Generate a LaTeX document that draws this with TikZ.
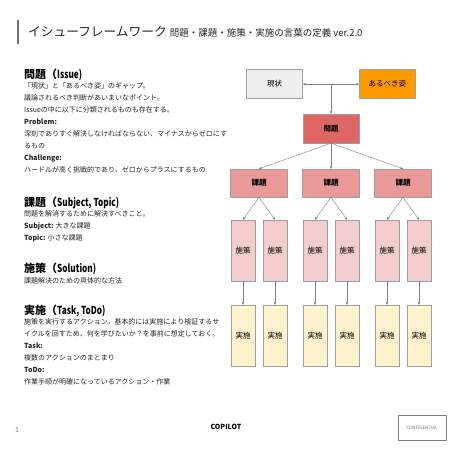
\documentclass[tikz,border=0pt]{standalone}
\usepackage{fontspec}
\setmainfont{Noto Sans CJK JP}
\newfontfamily\narrowlatin[FakeStretch=0.75]{Noto Sans CJK JP}
\usepackage{tikz}
\usetikzlibrary{arrows.meta,positioning,trees}
\definecolor{GenjoGray}{HTML}{EFEFEF}
\definecolor{ArubekiOrange}{HTML}{FF9900}
\definecolor{MondaiRed}{HTML}{E06666}
\definecolor{KadaiRed}{HTML}{EA9999}
\definecolor{ShisakuPink}{HTML}{F4CCCC}
\definecolor{JisshiYellow}{HTML}{FFF2CC}
\newcommand{\narrow}[1]{{\narrowlatin #1}}
\tikzset{
  basic/.style   = {draw=gray!75, thin, rectangle, align=center, inner sep=0pt,
                    font=\fontsize{7.5}{9}\selectfont},
  state/.style   = {basic, minimum width=56pt, minimum height=29pt},
  root/.style    = {state, fill=MondaiRed, font=\fontsize{7.5}{9}\selectfont\bfseries},
  kadai/.style   = {basic, fill=KadaiRed, minimum width=57pt, minimum height=28pt,
                    font=\fontsize{7.5}{9}\selectfont\bfseries},
  shisaku/.style = {basic, fill=ShisakuPink, minimum width=24pt, minimum height=61pt},
  jisshi/.style  = {basic, fill=JisshiYellow, minimum width=24pt, minimum height=61pt},
  heading/.style = {anchor=base west, inner sep=0pt, font=\fontsize{11}{12}\selectfont\bfseries},
  body/.style    = {anchor=north west, inner sep=0pt, align=left, text=black!85,
                    font=\fontsize{7}{12}\selectfont},
  link/.style    = {draw=gray, -{Stealth[length=3pt,width=2.5pt]}}
}
\begin{document}
\begin{tikzpicture}[
  x=1pt, y=1pt,
  level 1/.style={sibling distance=72pt, level distance=54.5pt},
  level 2/.style={sibling distance=32pt, level distance=67.5pt},
  level 3/.style={level distance=85pt},
  edge from parent/.style={link},
  edge from parent path={(\tikzparentnode.south) -- (\tikzchildnode.north)}]

\fill[white] (0,0) rectangle (453,453);
\useasboundingbox (0,0) rectangle (453,453);

% title
\draw[gray!90!black, line width=1.1pt] (18,433) -- (18,409);
\node[anchor=base west, inner sep=0pt, text=black!85, font=\fontsize{12.7}{14}\selectfont]
  (title) at (28,416.2) {イシューフレームワーク\hspace{3pt}{\fontsize{9.5}{11}\selectfont 問題・課題・施策・実施の言葉の定義 ver.2.0}};

% definitions on the left
\node[heading] (h1) at (24,374) {問題（\narrow{Issue)}};
\node[body] (b1) at (24,371) {「現状」と「あるべき姿」のギャップ。\\
  議論されるべき判断があいまいなポイント。\\
  Issueの中に以下に分類されるものも存在する。\\
  \textbf{Problem:}\\
  深刻でありすぐ解決しなければならない、マイナスからゼロにす\\
  るもの\\
  \textbf{Challenge:}\\
  ハードルが高く挑戦的であり、ゼロからプラスにするもの};

\node[heading] (h2) at (24,246) {課題（\narrow{Subject, Topic)}};
\node[body] (b2) at (24,243) {問題を解消するために解決すべきこと。\\
  \textbf{Subject:} 大きな課題\\
  \textbf{Topic:} 小さな課題};

\node[heading] (h3) at (24,180) {施策（\narrow{Solution)}};
\node[body] (b3) at (24,176) {課題解決のための具体的な方法};

\node[heading] (h4) at (24,138) {実施（\narrow{Task, ToDo)}};
\node[body] (b4) at (24,135) {施策を実行するアクション。基本的には実施により検証するサ\\
  イクルを回すため、何を学びたいか？を事前に想定しておく。\\
  \textbf{Task:}\\
  複数のアクションのまとまり\\
  \textbf{ToDo:}\\
  作業手順が明確になっているアクション・作業};

% the tree, root is the issue
\node[root] (mondai) at (331,324.5) {問題}
  child {node[kadai] (k1) {課題}
    child {node[shisaku] (s1) {施策} child {node[jisshi] (j1) {実施}}}
    child {node[shisaku] (s2) {施策} child {node[jisshi] (j2) {実施}}}}
  child {node[kadai] (k2) {課題}
    child {node[shisaku] (s3) {施策} child {node[jisshi] (j3) {実施}}}
    child {node[shisaku] (s4) {施策} child {node[jisshi] (j4) {実施}}}}
  child {node[kadai] (k3) {課題}
    child {node[shisaku] (s5) {施策} child {node[jisshi] (j5) {実施}}}
    child {node[shisaku] (s6) {施策} child {node[jisshi] (j6) {実施}}}};

% current state and goal
\node[state, fill=GenjoGray, above left=15pt and 0pt of mondai] (genjo) {現状};
\node[state, fill=ArubekiOrange, above right=15pt and 0pt of mondai] (arubeki) {あるべき姿};
\coordinate (split) at (mondai.north |- genjo.east);
\draw[link] (split) -- (genjo);
\draw[link] (split) -- (arubeki);
\draw[link] (split) -- (mondai);

% footer
\node[text=gray, font=\fontsize{7}{8}\selectfont] (page) at (17,23) {1};
\node[font=\fontsize{7}{8}\selectfont\bfseries] (copilot) at (226,26) {COPILOT};
\node[draw=gray, minimum width=48pt, minimum height=25pt, text=gray!90!black,
      font=\fontsize{4.5}{5}\selectfont] (conf) at (422,25) {CONFIDENTIAL};

\end{tikzpicture}
\end{document}
